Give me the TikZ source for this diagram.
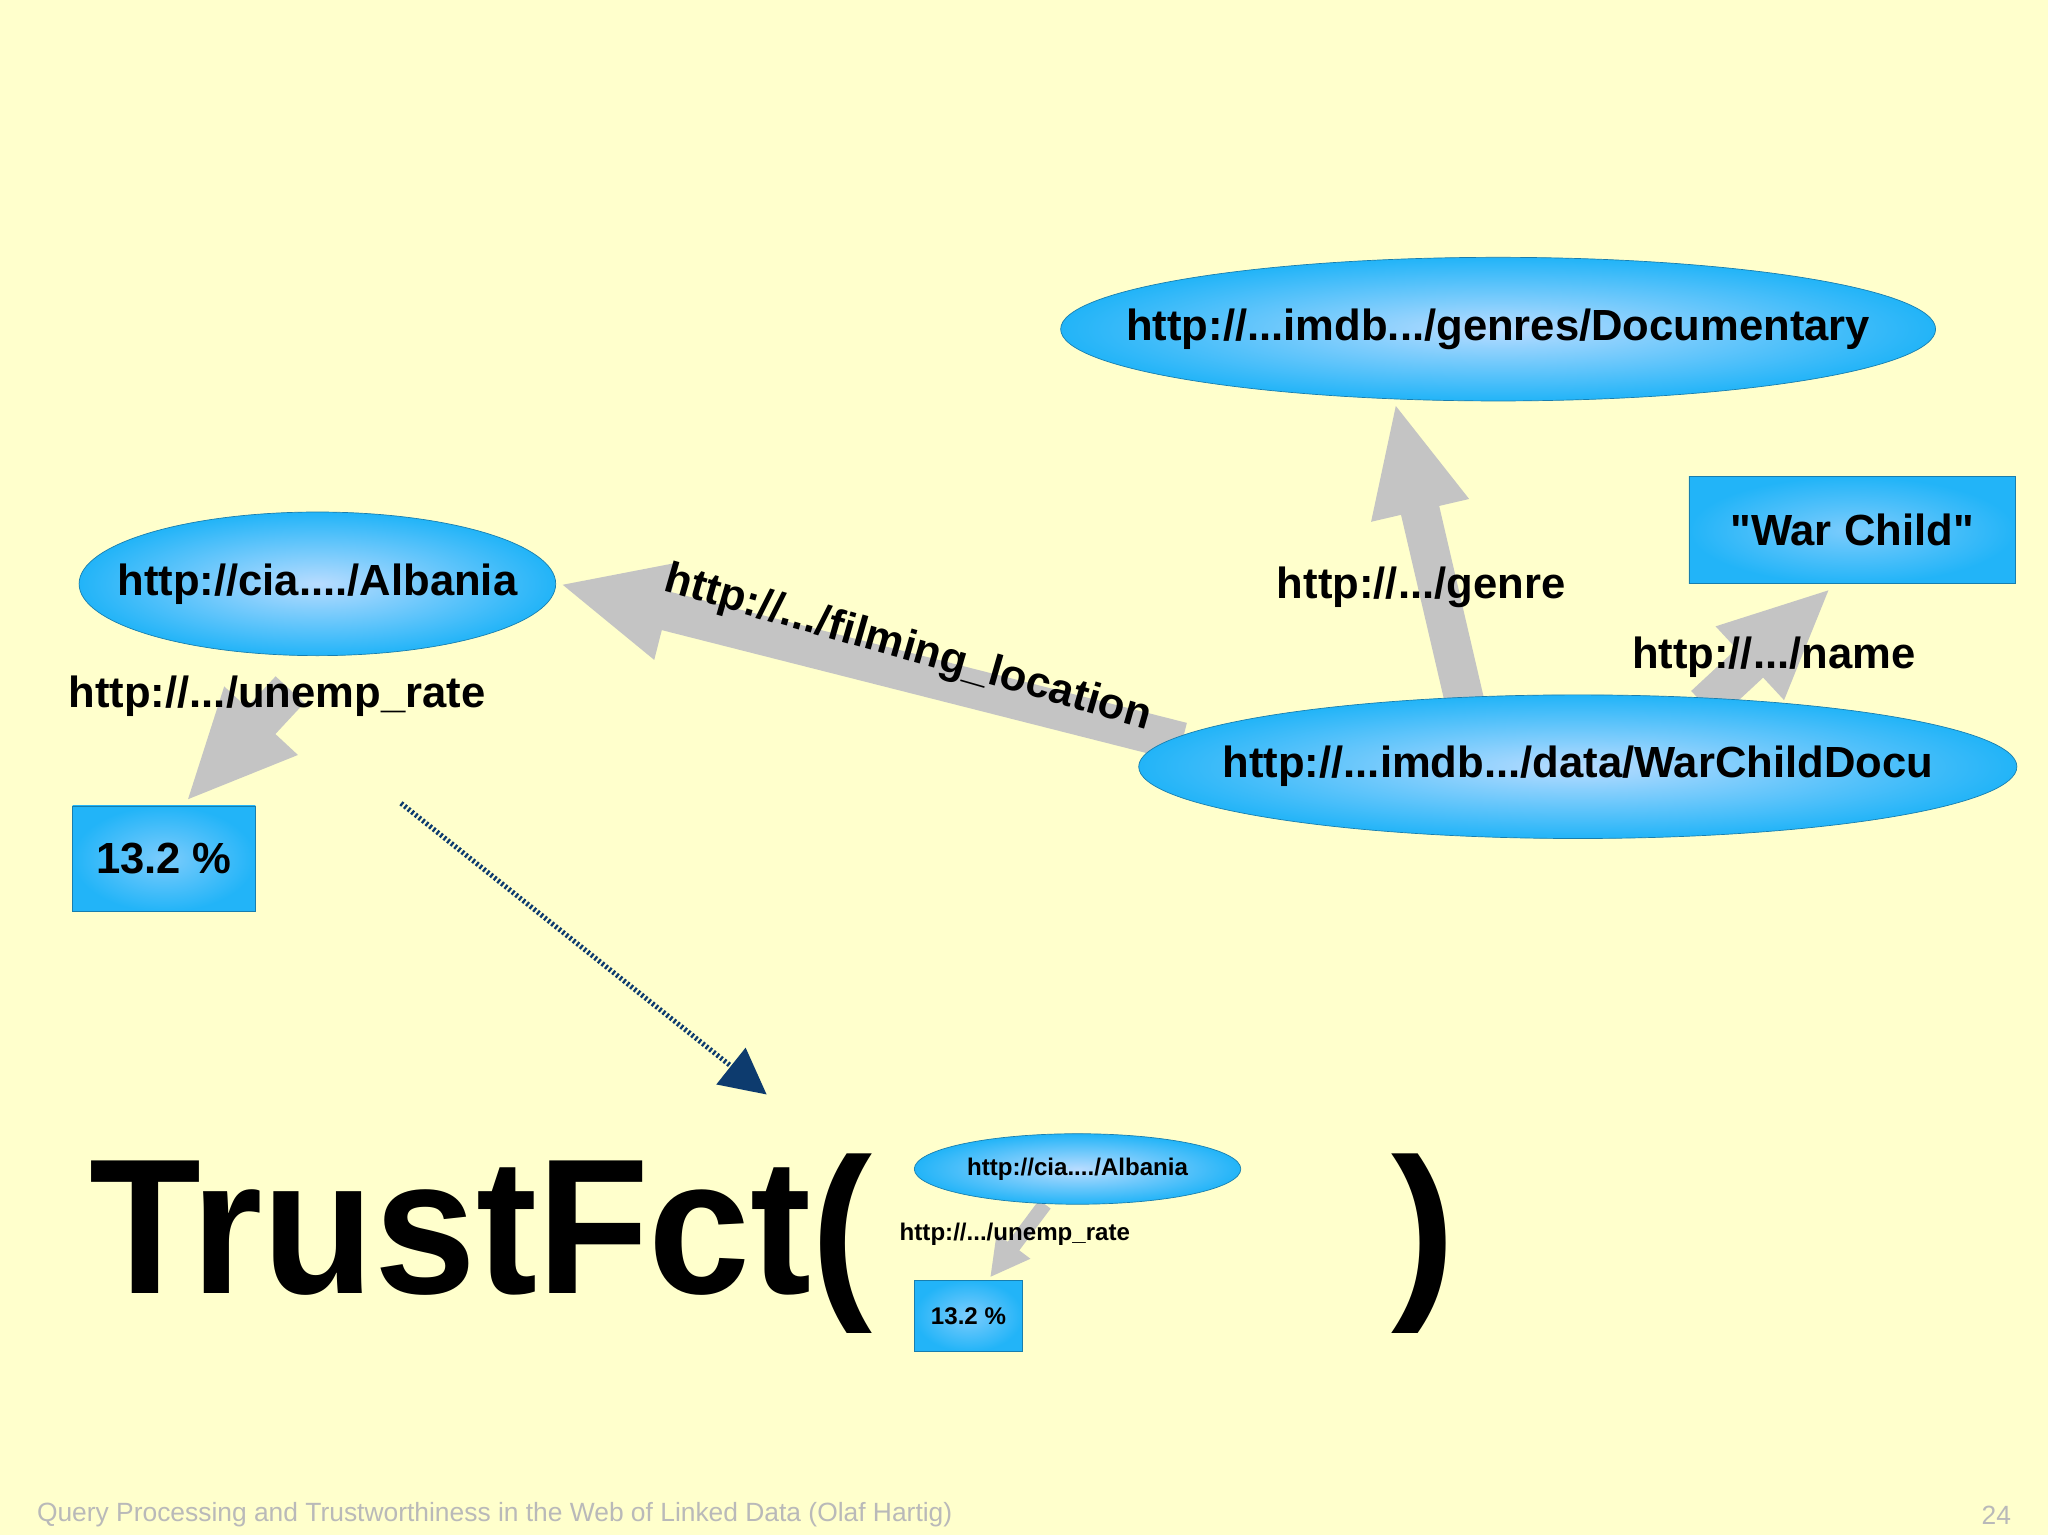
\documentclass[tikz,border=0pt]{standalone}
\usepackage{fontspec}
\setmainfont{Liberation Sans}[Ligatures=TeXOff]
\usetikzlibrary{arrows.meta,shapes.geometric}
\definecolor{bg}{HTML}{FFFFCC}
\definecolor{blueout}{HTML}{22B4F8}
\definecolor{bluein}{HTML}{B8DCFF}
\definecolor{fat}{HTML}{C4C4C4}
\definecolor{navy}{HTML}{0D3B6E}
\tikzset{
 res/.style={ellipse,draw=blueout!70!black,line width=0.3pt,inner color=bluein,outer color=blueout,inner sep=0pt},
 lit/.style={rectangle,draw=blueout!70!black,line width=0.3pt,inner color=bluein!60!blueout,outer color=blueout,inner sep=0pt,font=\bfseries\fontsize{19}{22}\selectfont},
 fatarrow/.style={draw=fat,line width=0.6cm,-{Triangle[length=1.7cm,width=1.4cm]}},
 thinfat/.style={draw=fat,line width=0.22cm,-{Triangle[length=0.6cm,width=0.6cm]}},
 lbl/.style={font=\bfseries\fontsize{19}{22}\selectfont,inner sep=0pt},
 slbl/.style={font=\bfseries\fontsize{10.5}{12}\selectfont,inner sep=0pt},
}
\begin{document}
\begin{tikzpicture}[x=0.02cm,y=-0.02cm]
\fill[bg] (0,0) rectangle (1568,1175);
\useasboundingbox (0,0) rectangle (1568,1175);
\coordinate (fs) at (905,568);
\coordinate (ft) at (428,447);
\coordinate (gs) at (1122,540);
\coordinate (gt) at (1068,308);
\coordinate (ns) at (1305,540);
\coordinate (nt) at (1402,450);
\coordinate (us) at (222,528);
\coordinate (ut) at (142,614);
\draw[fatarrow] (fs) -- (ft);
\draw[fatarrow] (gs) -- (gt);
\draw[fatarrow] (ns) -- (nt);
\draw[fatarrow] (us) -- (ut);
\node[res,minimum width=13.4cm,minimum height=2.2cm] (gen) at (1147,252) {};
\node[lbl] (gent) at (gen.center) {http://...imdb.../genres/Documentary};
\node[res,minimum width=7.3cm,minimum height=2.2cm] (alb) at (243,447) {};
\node[lbl] (albt) at (alb.center) {http://cia..../Albania};
\node[res,minimum width=13.45cm,minimum height=2.2cm] (wc) at (1208,587) {};
\node[lbl] (wct) at (wc.center) {http://...imdb.../data/WarChildDocu};
\node[lit,minimum width=5cm,minimum height=1.64cm] (war) at (1418,406) {"War Child"};
\node[lit,minimum width=2.8cm,minimum height=1.62cm] (pct) at (125.5,657.5) {13.2 \%};
\node[lbl] (lg) at (1088,450) {http://.../genre};
\node[lbl] (ln) at (1358,503) {http://.../name};
\node[lbl] (lu) at (212,533) {http://.../unemp\_rate};
\node[lbl,rotate=-16] (lf) at (695,497) {http://.../filming\_location};
\coordinate (ds) at (307,615);
\coordinate (dt) at (587,838);
\draw[navy,line width=2.2pt,dash pattern=on 1pt off 1pt,-{Triangle[length=0.7cm,width=0.7cm,fill=navy]}] (ds) -- (dt);
\node[inner sep=0pt,anchor=base west] (tf) at (68,990) {\scalebox{0.95}[1]{\bfseries\fontsize{84}{90}\selectfont TrustFct(}};
\node[inner sep=0pt,anchor=base] (cp) at (1090,990) {\bfseries\fontsize{84}{90}\selectfont )};
\coordinate (sus) at (800,922);
\coordinate (sut) at (758,978);
\draw[thinfat] (sus) -- (sut);
\node[res,minimum width=5cm,minimum height=1.08cm] (salb) at (825,895) {};
\node[slbl] (salbt) at (salb.center) {http://cia..../Albania};
\node[lit,minimum width=1.66cm,minimum height=1.1cm,font=\bfseries\fontsize{10.5}{12}\selectfont] (spct) at (741.5,1007.5) {13.2 \%};
\node[slbl] (slu) at (777,945) {http://.../unemp\_rate};
\node[anchor=west,inner sep=0pt,text=gray!55,font=\fontsize{11.5}{13}\selectfont] (foot) at (28,1160) {Query Processing and Trustworthiness in the Web of Linked Data (Olaf Hartig)};
\node[anchor=east,inner sep=0pt,text=gray!55,font=\fontsize{11.5}{13}\selectfont] (pg) at (1540,1160) {24};
\end{tikzpicture}
\end{document}
